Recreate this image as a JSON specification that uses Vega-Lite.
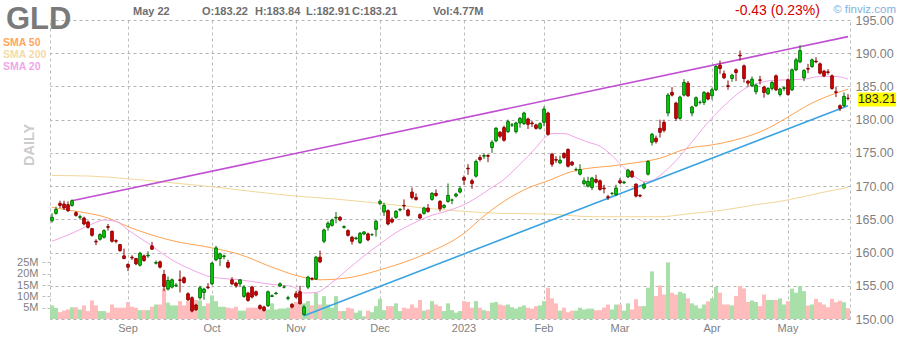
{
"$schema": "https://vega.github.io/schema/vega-lite/v6.json",
"width": 800, "height": 299,
"autosize": {"type": "none"},
"padding": {"left": 50, "top": 20, "right": 50, "bottom": 21},
"background": "#ffffff",
"config": {"view": {"stroke": null}, "font": "Liberation Sans",
 "axis": {"labelFont": "Liberation Sans", "titleFont": "Liberation Sans"},
 "text": {"font": "Liberation Sans"}},
"datasets": {
"ohlc": [
{"d":"2022-08-05","o":164.8,"h":165.9,"l":164.5,"c":165.3,"v":6.0},
{"d":"2022-08-08","o":165.9,"h":166.9,"l":165.7,"c":166.5,"v":4.9},
{"d":"2022-08-09","o":167.4,"h":167.8,"l":166.7,"c":167.1,"v":3.0},
{"d":"2022-08-10","o":167.3,"h":167.8,"l":166.4,"c":166.7,"v":3.7},
{"d":"2022-08-11","o":167.2,"h":167.7,"l":166.1,"c":166.3,"v":4.2},
{"d":"2022-08-12","o":167.1,"h":168.0,"l":166.9,"c":167.8,"v":5.2},
{"d":"2022-08-15","o":166.0,"h":166.2,"l":165.4,"c":165.6,"v":5.2},
{"d":"2022-08-16","o":165.3,"h":165.7,"l":165.0,"c":165.4,"v":4.2},
{"d":"2022-08-17","o":165.2,"h":165.4,"l":164.1,"c":164.3,"v":6.0},
{"d":"2022-08-18","o":164.6,"h":164.8,"l":163.6,"c":163.8,"v":3.5},
{"d":"2022-08-19","o":163.6,"h":163.7,"l":162.4,"c":162.6,"v":8.2},
{"d":"2022-08-22","o":161.7,"h":162.0,"l":161.1,"c":161.6,"v":6.0},
{"d":"2022-08-23","o":162.0,"h":162.9,"l":161.8,"c":162.7,"v":3.5},
{"d":"2022-08-24","o":162.3,"h":163.5,"l":162.1,"c":163.3,"v":3.5},
{"d":"2022-08-25","o":163.9,"h":164.3,"l":163.3,"c":163.8,"v":2.8},
{"d":"2022-08-26","o":163.2,"h":163.3,"l":161.5,"c":161.7,"v":6.4},
{"d":"2022-08-29","o":161.8,"h":162.0,"l":161.4,"c":161.7,"v":5.0},
{"d":"2022-08-30","o":161.2,"h":161.3,"l":160.1,"c":160.3,"v":5.0},
{"d":"2022-08-31","o":159.5,"h":160.6,"l":159.0,"c":159.1,"v":5.0},
{"d":"2022-09-01","o":158.2,"h":158.4,"l":157.2,"c":157.8,"v":7.5},
{"d":"2022-09-02","o":159.3,"h":159.6,"l":158.9,"c":159.2,"v":5.4},
{"d":"2022-09-06","o":159.1,"h":159.2,"l":158.1,"c":158.3,"v":5.0},
{"d":"2022-09-07","o":158.1,"h":160.1,"l":157.9,"c":159.9,"v":3.9},
{"d":"2022-09-08","o":159.5,"h":159.7,"l":158.6,"c":158.8,"v":3.9},
{"d":"2022-09-09","o":159.5,"h":160.2,"l":159.2,"c":159.6,"v":3.9},
{"d":"2022-09-12","o":161.0,"h":161.6,"l":160.4,"c":160.5,"v":5.4},
{"d":"2022-09-13","o":158.4,"h":158.8,"l":158.2,"c":158.5,"v":6.4},
{"d":"2022-09-14","o":158.6,"h":158.8,"l":157.6,"c":157.8,"v":6.4},
{"d":"2022-09-15","o":156.7,"h":157.4,"l":154.2,"c":154.9,"v":13.4},
{"d":"2022-09-16","o":154.5,"h":156.4,"l":154.3,"c":155.8,"v":7.2},
{"d":"2022-09-19","o":154.8,"h":156.1,"l":154.6,"c":155.9,"v":6.0},
{"d":"2022-09-20","o":155.0,"h":155.4,"l":154.8,"c":155.1,"v":6.0},
{"d":"2022-09-21","o":155.9,"h":157.3,"l":154.0,"c":155.8,"v":7.9},
{"d":"2022-09-22","o":156.2,"h":156.4,"l":155.3,"c":155.5,"v":6.0},
{"d":"2022-09-23","o":153.8,"h":154.0,"l":152.7,"c":152.9,"v":7.9},
{"d":"2022-09-26","o":153.2,"h":153.4,"l":151.0,"c":151.2,"v":6.9},
{"d":"2022-09-27","o":152.1,"h":152.3,"l":151.2,"c":151.4,"v":8.4},
{"d":"2022-09-28","o":153.2,"h":155.0,"l":152.9,"c":154.7,"v":8.2},
{"d":"2022-09-29","o":154.0,"h":154.7,"l":152.9,"c":154.5,"v":5.7},
{"d":"2022-09-30","o":154.8,"h":155.4,"l":154.5,"c":154.7,"v":6.9},
{"d":"2022-10-03","o":155.3,"h":158.6,"l":155.1,"c":158.4,"v":10.4},
{"d":"2022-10-04","o":158.9,"h":161.0,"l":158.7,"c":160.7,"v":7.9},
{"d":"2022-10-05","o":159.1,"h":160.0,"l":158.0,"c":159.8,"v":5.4},
{"d":"2022-10-06","o":159.4,"h":159.7,"l":159.0,"c":159.5,"v":5.4},
{"d":"2022-10-07","o":158.5,"h":158.9,"l":157.6,"c":157.8,"v":5.0},
{"d":"2022-10-10","o":155.9,"h":156.3,"l":155.1,"c":155.3,"v":4.7},
{"d":"2022-10-11","o":155.4,"h":155.6,"l":154.7,"c":155.0,"v":5.4},
{"d":"2022-10-12","o":155.3,"h":156.0,"l":154.8,"c":155.9,"v":3.7},
{"d":"2022-10-13","o":153.4,"h":155.1,"l":153.2,"c":154.8,"v":3.7},
{"d":"2022-10-14","o":153.9,"h":154.1,"l":152.6,"c":152.8,"v":5.0},
{"d":"2022-10-17","o":154.8,"h":155.0,"l":153.1,"c":153.3,"v":5.0},
{"d":"2022-10-18","o":154.1,"h":154.3,"l":153.4,"c":153.6,"v":5.0},
{"d":"2022-10-19","o":152.0,"h":152.2,"l":151.4,"c":151.6,"v":5.7},
{"d":"2022-10-20","o":151.8,"h":152.0,"l":151.1,"c":151.3,"v":4.2},
{"d":"2022-10-21","o":152.0,"h":154.3,"l":151.8,"c":154.1,"v":4.2},
{"d":"2022-10-24","o":153.4,"h":153.7,"l":153.3,"c":153.5,"v":6.9},
{"d":"2022-10-25","o":153.8,"h":154.1,"l":153.7,"c":153.9,"v":4.2},
{"d":"2022-10-26","o":155.0,"h":155.5,"l":154.8,"c":155.3,"v":4.6},
{"d":"2022-10-27","o":154.8,"h":155.1,"l":154.6,"c":154.8,"v":4.6},
{"d":"2022-10-28","o":153.1,"h":153.5,"l":152.8,"c":153.2,"v":5.0},
{"d":"2022-10-31","o":152.2,"h":152.4,"l":151.6,"c":151.8,"v":6.0},
{"d":"2022-11-01","o":153.8,"h":154.2,"l":153.1,"c":153.3,"v":7.5},
{"d":"2022-11-02","o":154.1,"h":155.0,"l":152.2,"c":152.3,"v":7.2},
{"d":"2022-11-03","o":150.7,"h":152.1,"l":150.5,"c":151.8,"v":6.9},
{"d":"2022-11-04","o":154.8,"h":156.5,"l":154.5,"c":156.3,"v":7.9},
{"d":"2022-11-07","o":156.1,"h":156.3,"l":155.8,"c":156.0,"v":6.0},
{"d":"2022-11-08","o":156.0,"h":159.5,"l":155.9,"c":159.3,"v":11.6},
{"d":"2022-11-09","o":159.3,"h":160.3,"l":158.4,"c":158.6,"v":6.4},
{"d":"2022-11-10","o":161.7,"h":163.6,"l":161.4,"c":163.4,"v":10.1},
{"d":"2022-11-11","o":163.8,"h":164.7,"l":163.3,"c":164.4,"v":6.4},
{"d":"2022-11-14","o":164.1,"h":165.1,"l":163.9,"c":164.9,"v":5.0},
{"d":"2022-11-15","o":165.2,"h":166.1,"l":164.4,"c":165.3,"v":10.1},
{"d":"2022-11-16","o":165.3,"h":165.5,"l":164.7,"c":164.9,"v":3.5},
{"d":"2022-11-17","o":163.8,"h":164.1,"l":163.6,"c":163.9,"v":3.5},
{"d":"2022-11-18","o":163.3,"h":163.5,"l":162.4,"c":162.6,"v":5.0},
{"d":"2022-11-21","o":162.3,"h":162.5,"l":161.2,"c":161.7,"v":4.6},
{"d":"2022-11-22","o":162.1,"h":162.4,"l":161.9,"c":162.2,"v":2.8},
{"d":"2022-11-23","o":161.5,"h":163.1,"l":161.3,"c":162.9,"v":3.7},
{"d":"2022-11-25","o":162.8,"h":163.2,"l":162.6,"c":163.1,"v":1.2},
{"d":"2022-11-28","o":162.8,"h":163.0,"l":161.7,"c":161.9,"v":3.7},
{"d":"2022-11-29","o":162.7,"h":162.9,"l":162.5,"c":162.7,"v":3.0},
{"d":"2022-11-30","o":163.5,"h":164.9,"l":162.4,"c":164.7,"v":5.7},
{"d":"2022-12-01","o":167.4,"h":168.0,"l":167.1,"c":167.7,"v":8.9},
{"d":"2022-12-02","o":166.1,"h":167.5,"l":165.5,"c":167.1,"v":3.9},
{"d":"2022-12-05","o":166.3,"h":166.5,"l":164.1,"c":164.3,"v":5.7},
{"d":"2022-12-06","o":165.0,"h":165.3,"l":164.4,"c":164.6,"v":5.7},
{"d":"2022-12-07","o":165.3,"h":166.4,"l":165.1,"c":166.2,"v":6.9},
{"d":"2022-12-08","o":166.4,"h":166.7,"l":166.2,"c":166.5,"v":3.5},
{"d":"2022-12-09","o":167.1,"h":168.0,"l":166.4,"c":167.0,"v":5.0},
{"d":"2022-12-12","o":166.4,"h":166.6,"l":165.4,"c":165.6,"v":4.6},
{"d":"2022-12-13","o":169.1,"h":169.8,"l":168.0,"c":168.3,"v":6.4},
{"d":"2022-12-14","o":168.3,"h":168.9,"l":167.8,"c":168.0,"v":5.0},
{"d":"2022-12-15","o":165.7,"h":165.9,"l":165.0,"c":165.2,"v":8.4},
{"d":"2022-12-16","o":165.9,"h":166.9,"l":165.7,"c":166.7,"v":3.7},
{"d":"2022-12-19","o":166.7,"h":167.3,"l":166.0,"c":166.2,"v":4.2},
{"d":"2022-12-20","o":168.0,"h":169.1,"l":167.8,"c":168.9,"v":7.9},
{"d":"2022-12-21","o":168.9,"h":169.5,"l":168.4,"c":168.6,"v":6.4},
{"d":"2022-12-22","o":167.7,"h":167.9,"l":166.2,"c":166.6,"v":5.7},
{"d":"2022-12-23","o":166.8,"h":167.3,"l":166.6,"c":167.1,"v":3.5},
{"d":"2022-12-27","o":167.7,"h":170.4,"l":167.5,"c":168.6,"v":6.9},
{"d":"2022-12-28","o":167.9,"h":168.1,"l":167.3,"c":167.9,"v":3.9},
{"d":"2022-12-29","o":168.5,"h":169.0,"l":168.3,"c":168.8,"v":2.8},
{"d":"2022-12-30","o":169.1,"h":170.0,"l":168.9,"c":169.6,"v":3.5},
{"d":"2023-01-03","o":171.3,"h":171.6,"l":170.2,"c":170.9,"v":7.9},
{"d":"2023-01-04","o":172.7,"h":173.3,"l":171.7,"c":172.6,"v":7.5},
{"d":"2023-01-05","o":170.8,"h":171.1,"l":169.6,"c":170.4,"v":5.0},
{"d":"2023-01-06","o":171.5,"h":174.0,"l":171.3,"c":173.7,"v":7.9},
{"d":"2023-01-09","o":174.3,"h":174.7,"l":173.7,"c":174.0,"v":5.0},
{"d":"2023-01-10","o":174.5,"h":174.9,"l":174.1,"c":174.6,"v":3.9},
{"d":"2023-01-11","o":174.6,"h":174.8,"l":173.6,"c":174.5,"v":3.5},
{"d":"2023-01-12","o":175.8,"h":176.9,"l":175.0,"c":176.6,"v":7.2},
{"d":"2023-01-13","o":176.8,"h":178.9,"l":176.6,"c":178.7,"v":7.5},
{"d":"2023-01-17","o":178.1,"h":178.3,"l":177.2,"c":177.5,"v":6.4},
{"d":"2023-01-18","o":178.8,"h":179.1,"l":176.7,"c":176.9,"v":6.0},
{"d":"2023-01-19","o":178.2,"h":180.0,"l":178.0,"c":179.7,"v":6.4},
{"d":"2023-01-20","o":179.2,"h":179.5,"l":178.9,"c":179.2,"v":5.2},
{"d":"2023-01-23","o":178.2,"h":179.7,"l":177.9,"c":179.5,"v":4.6},
{"d":"2023-01-24","o":179.5,"h":180.4,"l":178.8,"c":180.2,"v":5.4},
{"d":"2023-01-25","o":179.4,"h":181.2,"l":179.2,"c":181.0,"v":6.0},
{"d":"2023-01-26","o":180.1,"h":180.3,"l":178.6,"c":179.3,"v":5.0},
{"d":"2023-01-27","o":179.5,"h":179.8,"l":178.9,"c":179.4,"v":4.6},
{"d":"2023-01-30","o":179.2,"h":179.4,"l":178.5,"c":178.7,"v":5.7},
{"d":"2023-01-31","o":178.7,"h":179.6,"l":178.5,"c":179.4,"v":6.0},
{"d":"2023-02-01","o":179.6,"h":182.0,"l":179.0,"c":181.6,"v":7.9},
{"d":"2023-02-02","o":181.0,"h":181.2,"l":177.6,"c":177.8,"v":13.8},
{"d":"2023-02-03","o":174.8,"h":175.0,"l":172.9,"c":173.3,"v":9.1},
{"d":"2023-02-06","o":174.0,"h":174.5,"l":173.5,"c":173.9,"v":6.9},
{"d":"2023-02-07","o":173.5,"h":174.6,"l":173.3,"c":173.9,"v":3.7},
{"d":"2023-02-08","o":174.9,"h":175.1,"l":174.1,"c":174.3,"v":5.0},
{"d":"2023-02-09","o":175.5,"h":175.7,"l":172.8,"c":173.0,"v":3.0},
{"d":"2023-02-10","o":173.6,"h":173.8,"l":173.0,"c":173.2,"v":3.7},
{"d":"2023-02-13","o":172.5,"h":172.8,"l":172.2,"c":172.5,"v":3.7},
{"d":"2023-02-14","o":171.8,"h":173.3,"l":171.6,"c":172.5,"v":5.0},
{"d":"2023-02-15","o":170.4,"h":171.3,"l":170.1,"c":170.8,"v":4.2},
{"d":"2023-02-16","o":170.0,"h":171.4,"l":169.8,"c":170.7,"v":4.6},
{"d":"2023-02-17","o":169.8,"h":171.4,"l":169.4,"c":171.2,"v":4.6},
{"d":"2023-02-21","o":171.0,"h":171.7,"l":170.4,"c":170.6,"v":3.9},
{"d":"2023-02-22","o":170.8,"h":171.0,"l":169.3,"c":169.5,"v":3.9},
{"d":"2023-02-23","o":169.7,"h":170.2,"l":168.9,"c":169.6,"v":5.0},
{"d":"2023-02-24","o":168.4,"h":168.7,"l":167.9,"c":168.3,"v":6.4},
{"d":"2023-02-27","o":168.9,"h":169.1,"l":168.6,"c":168.9,"v":4.2},
{"d":"2023-02-28","o":168.7,"h":170.2,"l":168.5,"c":169.7,"v":6.4},
{"d":"2023-03-01","o":170.8,"h":171.2,"l":170.3,"c":170.5,"v":6.4},
{"d":"2023-03-02","o":170.5,"h":170.8,"l":170.3,"c":170.6,"v":3.7},
{"d":"2023-03-03","o":171.4,"h":172.6,"l":171.2,"c":172.4,"v":6.9},
{"d":"2023-03-06","o":172.2,"h":172.4,"l":171.2,"c":171.4,"v":4.2},
{"d":"2023-03-07","o":170.3,"h":170.4,"l":168.3,"c":168.5,"v":8.7},
{"d":"2023-03-08","o":168.6,"h":168.8,"l":168.3,"c":168.5,"v":5.7},
{"d":"2023-03-09","o":169.7,"h":170.6,"l":169.5,"c":170.2,"v":5.7},
{"d":"2023-03-10","o":171.8,"h":173.9,"l":171.6,"c":173.7,"v":13.8},
{"d":"2023-03-13","o":176.6,"h":178.0,"l":176.1,"c":177.8,"v":21.0},
{"d":"2023-03-14","o":177.2,"h":177.6,"l":176.4,"c":176.7,"v":10.1},
{"d":"2023-03-15","o":178.7,"h":180.0,"l":177.3,"c":178.1,"v":14.8},
{"d":"2023-03-16","o":179.6,"h":180.0,"l":178.1,"c":178.4,"v":10.8},
{"d":"2023-03-17","o":181.0,"h":184.0,"l":180.5,"c":183.7,"v":25.0},
{"d":"2023-03-20","o":184.1,"h":184.9,"l":183.5,"c":183.7,"v":11.6},
{"d":"2023-03-21","o":182.5,"h":182.7,"l":179.8,"c":180.2,"v":10.8},
{"d":"2023-03-22","o":180.2,"h":183.6,"l":180.0,"c":183.4,"v":12.0},
{"d":"2023-03-23","o":183.7,"h":186.1,"l":183.5,"c":185.6,"v":11.3},
{"d":"2023-03-24","o":185.5,"h":185.8,"l":183.4,"c":183.6,"v":9.1},
{"d":"2023-03-27","o":181.0,"h":182.1,"l":180.5,"c":181.9,"v":6.9},
{"d":"2023-03-28","o":182.1,"h":183.5,"l":181.9,"c":183.3,"v":6.0},
{"d":"2023-03-29","o":182.6,"h":182.9,"l":182.3,"c":182.6,"v":4.7},
{"d":"2023-03-30","o":182.6,"h":184.3,"l":182.2,"c":184.1,"v":6.4},
{"d":"2023-03-31","o":184.0,"h":184.2,"l":182.9,"c":183.1,"v":7.8},
{"d":"2023-04-03","o":183.6,"h":184.8,"l":183.0,"c":184.5,"v":9.1},
{"d":"2023-04-04","o":184.5,"h":188.2,"l":184.3,"c":188.0,"v":14.1},
{"d":"2023-04-05","o":188.2,"h":188.9,"l":186.9,"c":187.7,"v":11.6},
{"d":"2023-04-06","o":186.9,"h":187.4,"l":186.1,"c":186.3,"v":6.4},
{"d":"2023-04-10","o":185.1,"h":185.9,"l":184.5,"c":185.0,"v":6.4},
{"d":"2023-04-11","o":186.2,"h":186.9,"l":185.7,"c":186.7,"v":6.0},
{"d":"2023-04-12","o":187.5,"h":187.7,"l":185.8,"c":187.1,"v":10.1},
{"d":"2023-04-13","o":189.7,"h":190.4,"l":188.9,"c":189.6,"v":14.5},
{"d":"2023-04-14","o":188.1,"h":188.3,"l":185.6,"c":186.2,"v":13.5},
{"d":"2023-04-17","o":185.8,"h":186.0,"l":185.0,"c":185.5,"v":7.5},
{"d":"2023-04-18","o":185.1,"h":186.5,"l":184.9,"c":186.1,"v":8.2},
{"d":"2023-04-19","o":184.2,"h":185.4,"l":183.8,"c":185.2,"v":7.5},
{"d":"2023-04-20","o":186.0,"h":186.6,"l":185.3,"c":185.9,"v":5.7},
{"d":"2023-04-21","o":184.9,"h":185.1,"l":183.3,"c":184.1,"v":10.8},
{"d":"2023-04-24","o":183.9,"h":184.9,"l":183.7,"c":184.7,"v":8.4},
{"d":"2023-04-25","o":184.7,"h":185.8,"l":184.4,"c":185.6,"v":8.4},
{"d":"2023-04-26","o":186.6,"h":186.8,"l":184.3,"c":184.5,"v":8.4},
{"d":"2023-04-27","o":183.8,"h":184.8,"l":183.5,"c":184.6,"v":9.1},
{"d":"2023-04-28","o":184.7,"h":185.0,"l":184.3,"c":184.8,"v":6.4},
{"d":"2023-05-01","o":186.0,"h":186.2,"l":183.6,"c":183.8,"v":7.9},
{"d":"2023-05-02","o":184.5,"h":187.7,"l":184.3,"c":187.5,"v":13.4},
{"d":"2023-05-03","o":187.5,"h":189.3,"l":187.3,"c":189.0,"v":11.6},
{"d":"2023-05-04","o":188.7,"h":191.2,"l":188.5,"c":190.4,"v":14.5},
{"d":"2023-05-05","o":186.3,"h":187.6,"l":185.8,"c":187.4,"v":12.3},
{"d":"2023-05-08","o":187.7,"h":188.4,"l":187.0,"c":187.6,"v":5.9},
{"d":"2023-05-09","o":188.0,"h":189.2,"l":187.8,"c":189.0,"v":6.4},
{"d":"2023-05-10","o":188.8,"h":189.4,"l":188.5,"c":188.7,"v":8.9},
{"d":"2023-05-11","o":188.4,"h":188.6,"l":186.8,"c":187.0,"v":7.4},
{"d":"2023-05-12","o":187.3,"h":187.5,"l":186.4,"c":186.6,"v":6.4},
{"d":"2023-05-15","o":187.2,"h":187.6,"l":186.8,"c":187.1,"v":5.2},
{"d":"2023-05-16","o":186.6,"h":186.8,"l":184.5,"c":184.7,"v":8.9},
{"d":"2023-05-17","o":184.2,"h":184.9,"l":183.4,"c":184.1,"v":7.4},
{"d":"2023-05-18","o":182.1,"h":182.3,"l":181.3,"c":181.7,"v":8.1},
{"d":"2023-05-19","o":182.1,"h":184.1,"l":181.9,"c":183.5,"v":7.4},
{"d":"2023-05-22","o":183.22,"h":183.84,"l":182.91,"c":183.21,"v":4.77}
],
"sma": [
{"d":"2022-08-05","s":"200","p":171.6},{"d":"2022-08-19","s":"200","p":171.5},{"d":"2022-09-01","s":"200","p":171.1},{"d":"2022-09-19","s":"200","p":170.5},{"d":"2022-10-03","s":"200","p":169.9},{"d":"2022-10-17","s":"200","p":169.2},{"d":"2022-11-01","s":"200","p":168.5},{"d":"2022-11-14","s":"200","p":168.1},{"d":"2022-12-01","s":"200","p":167.4},{"d":"2022-12-16","s":"200","p":166.7},{"d":"2023-01-03","s":"200","p":166.2},{"d":"2023-01-17","s":"200","p":165.9},{"d":"2023-02-02","s":"200","p":165.8},{"d":"2023-02-17","s":"200","p":165.4},{"d":"2023-03-06","s":"200","p":165.4},{"d":"2023-03-15","s":"200","p":165.4},{"d":"2023-03-27","s":"200","p":165.9},{"d":"2023-04-06","s":"200","p":166.4},{"d":"2023-04-19","s":"200","p":167.2},{"d":"2023-04-26","s":"200","p":167.6},{"d":"2023-05-04","s":"200","p":168.3},{"d":"2023-05-12","s":"200","p":169.1},{"d":"2023-05-22","s":"200","p":169.8},
{"d":"2022-08-05","s":"50","p":166.8},{"d":"2022-08-12","s":"50","p":166.3},{"d":"2022-08-25","s":"50","p":165.2},{"d":"2022-09-01","s":"50","p":163.9},{"d":"2022-09-19","s":"50","p":161.8},{"d":"2022-10-03","s":"50","p":160.7},{"d":"2022-10-12","s":"50","p":159.7},{"d":"2022-10-24","s":"50","p":157.8},{"d":"2022-11-02","s":"50","p":156.4},{"d":"2022-11-09","s":"50","p":155.9},{"d":"2022-11-21","s":"50","p":156.3},{"d":"2022-12-01","s":"50","p":157.4},{"d":"2022-12-16","s":"50","p":159.7},{"d":"2023-01-03","s":"50","p":162.9},{"d":"2023-01-10","s":"50","p":165.5},{"d":"2023-01-13","s":"50","p":166.9},{"d":"2023-01-23","s":"50","p":168.8},{"d":"2023-01-26","s":"50","p":169.7},{"d":"2023-02-02","s":"50","p":170.8},{"d":"2023-02-10","s":"50","p":172.2},{"d":"2023-03-01","s":"50","p":173.2},{"d":"2023-03-15","s":"50","p":174.2},{"d":"2023-03-24","s":"50","p":175.7},{"d":"2023-04-03","s":"50","p":176.2},{"d":"2023-04-18","s":"50","p":177.7},{"d":"2023-04-24","s":"50","p":178.7},{"d":"2023-05-01","s":"50","p":180.4},{"d":"2023-05-09","s":"50","p":182.5},{"d":"2023-05-18","s":"50","p":184.2},{"d":"2023-05-22","s":"50","p":184.6},
{"d":"2022-08-05","s":"20","p":161.7},{"d":"2022-08-12","s":"20","p":162.9},{"d":"2022-08-19","s":"20","p":164.3},{"d":"2022-08-24","s":"20","p":164.9},{"d":"2022-08-29","s":"20","p":164.7},{"d":"2022-09-01","s":"20","p":163.4},{"d":"2022-09-09","s":"20","p":161.4},{"d":"2022-09-19","s":"20","p":158.9},{"d":"2022-09-26","s":"20","p":157.4},{"d":"2022-10-03","s":"20","p":156.3},{"d":"2022-10-12","s":"20","p":155.9},{"d":"2022-10-24","s":"20","p":155.2},{"d":"2022-10-31","s":"20","p":154.9},{"d":"2022-11-03","s":"20","p":153.9},{"d":"2022-11-08","s":"20","p":154.0},{"d":"2022-11-14","s":"20","p":155.5},{"d":"2022-11-18","s":"20","p":157.5},{"d":"2022-11-25","s":"20","p":159.5},{"d":"2022-12-01","s":"20","p":161.3},{"d":"2022-12-07","s":"20","p":163.0},{"d":"2022-12-13","s":"20","p":164.3},{"d":"2022-12-19","s":"20","p":165.4},{"d":"2022-12-27","s":"20","p":166.3},{"d":"2023-01-03","s":"20","p":167.2},{"d":"2023-01-06","s":"20","p":168.2},{"d":"2023-01-12","s":"20","p":169.8},{"d":"2023-01-18","s":"20","p":171.0},{"d":"2023-01-23","s":"20","p":172.7},{"d":"2023-01-26","s":"20","p":174.5},{"d":"2023-01-30","s":"20","p":175.8},{"d":"2023-02-01","s":"20","p":177.2},{"d":"2023-02-03","s":"20","p":177.9},{"d":"2023-02-08","s":"20","p":177.9},{"d":"2023-02-13","s":"20","p":177.3},{"d":"2023-02-16","s":"20","p":176.6},{"d":"2023-02-22","s":"20","p":176.0},{"d":"2023-02-27","s":"20","p":174.6},{"d":"2023-03-02","s":"20","p":172.8},{"d":"2023-03-07","s":"20","p":171.3},{"d":"2023-03-09","s":"20","p":170.7},{"d":"2023-03-13","s":"20","p":170.8},{"d":"2023-03-15","s":"20","p":171.6},{"d":"2023-03-20","s":"20","p":173.2},{"d":"2023-03-23","s":"20","p":175.2},{"d":"2023-03-28","s":"20","p":177.4},{"d":"2023-03-31","s":"20","p":179.6},{"d":"2023-04-05","s":"20","p":181.5},{"d":"2023-04-11","s":"20","p":183.2},{"d":"2023-04-14","s":"20","p":184.6},{"d":"2023-04-19","s":"20","p":185.4},{"d":"2023-04-25","s":"20","p":185.9},{"d":"2023-05-01","s":"20","p":186.0},{"d":"2023-05-05","s":"20","p":186.1},{"d":"2023-05-11","s":"20","p":186.5},{"d":"2023-05-17","s":"20","p":186.5},{"d":"2023-05-22","s":"20","p":186.1}
],
"trend": [
{"d":"2022-08-12","p":167.8,"n":"top"},{"d":"2023-05-22","p":192.5,"n":"top"},
{"d":"2022-11-03","p":150.5,"n":"bottom"},{"d":"2023-05-22","p":182.1,"n":"bottom"}
]
},
"data": {"name": "ohlc"},
"layer": [
{
"mark": {"type": "bar", "width": {"band": 1}},
"encoding": {
"x": {"field": "d", "type": "ordinal", "title": null, "scale": {"type": "band", "paddingInner": 0, "paddingOuter": 0},
 "axis": {"values": ["2022-09-01","2022-10-03","2022-11-01","2022-12-01","2023-01-03","2023-02-01","2023-03-01","2023-04-03","2023-05-01"],
  "labelExpr": "utcmonth(toDate(datum.value)) == 0 ? utcFormat(toDate(datum.value), '%Y') : utcFormat(toDate(datum.value), '%b')",
  "grid": true, "gridDash": [3,3], "gridColor": "#bdbdbd", "ticks": false, "domain": false, "labelAngle": 0, "labelPadding": 3, "labelColor": "#7f7f7f", "labelFontSize": 11, "bandPosition": 0.5}},
"y": {"field": "v", "type": "quantitative", "title": null, "scale": {"domain": [0, 132], "nice": false, "zero": true},
 "axis": {"orient": "left", "values": [5,10,15,20,25], "labelExpr": "datum.value + 'M'", "grid": false, "ticks": true, "tickSize": 10, "tickColor": "#bdbdbd", "tickDash": [3,2], "domain": true, "domainColor": "#bdbdbd", "domainDash": [3,3], "labelColor": "#7f7f7f", "labelFontSize": 11, "labelPadding": 2}},
"fill": {"condition": {"test": "datum.c >= datum.o", "value": "#a9dfa9"}, "value": "#ffbcbc"}
}
},
{
"data": {"name": "sma"},
"mark": {"type": "line", "strokeWidth": 1, "interpolate": "monotone"},
"encoding": {
"x": {"field": "d", "type": "ordinal", "title": null},
"y": {"field": "p", "type": "quantitative", "title": null, "scale": {"domain": [150, 195], "nice": false, "zero": false},
 "axis": {"orient": "right", "values": [150,155,160,165,170,175,180,185,190,195], "format": ".2f", "grid": true, "gridDash": [3,3], "gridColor": "#b5b5b5", "ticks": false, "domain": true, "domainColor": "#bdbdbd", "domainDash": [3,3], "labelColor": "#7f7f7f", "labelFontSize": 12.5, "labelPadding": 5, "labelOverlap": false}},
"detail": {"field": "s"},
"stroke": {"condition": [{"test": "datum.s == '50'", "value": "#ffa352"}, {"test": "datum.s == '200'", "value": "#f2d799"}], "value": "#f2a6e8"}
}
},
{
"data": {"name": "trend"},
"mark": {"type": "line", "strokeWidth": 1.6},
"encoding": {
"x": {"field": "d", "type": "ordinal", "title": null},
"y": {"field": "p", "type": "quantitative", "scale": {"domain": [150, 195], "nice": false, "zero": false}, "axis": null},
"detail": {"field": "n"},
"stroke": {"condition": {"test": "datum.n == 'top'", "value": "#c04fd2"}, "value": "#3ba3e3"}
}
},
{
"mark": {"type": "rule", "strokeWidth": 1},
"encoding": {
"x": {"field": "d", "type": "ordinal", "title": null},
"y": {"field": "l", "type": "quantitative", "scale": {"domain": [150, 195], "nice": false, "zero": false}, "axis": null},
"y2": {"field": "h"},
"stroke": {"condition": {"test": "datum.c >= datum.o", "value": "#006a00"}, "value": "#8a0000"}
}
},
{
"mark": {"type": "bar", "width": 2.6, "strokeWidth": 1},
"encoding": {
"x": {"field": "d", "type": "ordinal", "title": null},
"y": {"field": "o", "type": "quantitative", "scale": {"domain": [150, 195], "nice": false, "zero": false}, "axis": null},
"y2": {"field": "c"},
"fill": {"condition": {"test": "datum.c >= datum.o", "value": "#00dd00"}, "value": "#e00000"},
"stroke": {"condition": {"test": "datum.c >= datum.o", "value": "#006a00"}, "value": "#8a0000"}
}
},
{"data": {"values": [{}]}, "mark": {"type": "text", "text": "GLD", "fontSize": 31, "fontWeight": "bold", "color": "#7a7a7a", "align": "left", "baseline": "alphabetic", "dx": -46},
 "encoding": {"x": {"datum": "2022-08-05", "type": "ordinal", "title": null}, "y": {"datum": 193.6, "type": "quantitative", "scale": {"domain": [150, 195], "nice": false, "zero": false}, "axis": null}}},
{"data": {"values": [{}]}, "mark": {"type": "text", "text": "May 22", "fontSize": 11, "fontWeight": "bold", "color": "#6e6e6e", "align": "left", "baseline": "alphabetic", "dx": 1},
 "encoding": {"x": {"datum": "2022-09-02", "type": "ordinal", "title": null}, "y": {"datum": 195.75, "type": "quantitative", "scale": {"domain": [150, 195], "nice": false, "zero": false}, "axis": null}}},
{"data": {"values": [{}]}, "mark": {"type": "text", "text": "O:183.22", "fontSize": 11, "fontWeight": "bold", "color": "#6e6e6e", "align": "left", "baseline": "alphabetic", "dx": 2},
 "encoding": {"x": {"datum": "2022-09-28", "type": "ordinal", "title": null}, "y": {"datum": 195.75, "type": "quantitative", "scale": {"domain": [150, 195], "nice": false, "zero": false}, "axis": null}}},
{"data": {"values": [{}]}, "mark": {"type": "text", "text": "H:183.84", "fontSize": 11, "fontWeight": "bold", "color": "#6e6e6e", "align": "left", "baseline": "alphabetic", "dx": -1},
 "encoding": {"x": {"datum": "2022-10-18", "type": "ordinal", "title": null}, "y": {"datum": 195.75, "type": "quantitative", "scale": {"domain": [150, 195], "nice": false, "zero": false}, "axis": null}}},
{"data": {"values": [{}]}, "mark": {"type": "text", "text": "L:182.91", "fontSize": 11, "fontWeight": "bold", "color": "#6e6e6e", "align": "left", "baseline": "alphabetic", "dx": 2},
 "encoding": {"x": {"datum": "2022-11-03", "type": "ordinal", "title": null}, "y": {"datum": 195.75, "type": "quantitative", "scale": {"domain": [150, 195], "nice": false, "zero": false}, "axis": null}}},
{"data": {"values": [{}]}, "mark": {"type": "text", "text": "C:183.21", "fontSize": 11, "fontWeight": "bold", "color": "#6e6e6e", "align": "left", "baseline": "alphabetic", "dx": 0},
 "encoding": {"x": {"datum": "2022-11-21", "type": "ordinal", "title": null}, "y": {"datum": 195.75, "type": "quantitative", "scale": {"domain": [150, 195], "nice": false, "zero": false}, "axis": null}}},
{"data": {"values": [{}]}, "mark": {"type": "text", "text": "Vol:4.77M", "fontSize": 11, "fontWeight": "bold", "color": "#6e6e6e", "align": "left", "baseline": "alphabetic", "dx": 1},
 "encoding": {"x": {"datum": "2022-12-20", "type": "ordinal", "title": null}, "y": {"datum": 195.75, "type": "quantitative", "scale": {"domain": [150, 195], "nice": false, "zero": false}, "axis": null}}},
{"data": {"values": [{}]}, "mark": {"type": "text", "text": "-0.43 (0.23%)", "fontSize": 14, "color": "#d40000", "align": "left", "baseline": "alphabetic", "dx": -1},
 "encoding": {"x": {"datum": "2023-04-12", "type": "ordinal", "title": null}, "y": {"datum": 195.8, "type": "quantitative", "scale": {"domain": [150, 195], "nice": false, "zero": false}, "axis": null}}},
{"data": {"values": [{}]}, "mark": {"type": "text", "text": "© finviz.com", "fontSize": 11.5, "color": "#7fb0e0", "align": "right", "baseline": "alphabetic", "dx": 48},
 "encoding": {"x": {"datum": "2023-05-22", "type": "ordinal", "title": null}, "y": {"datum": 196.1, "type": "quantitative", "scale": {"domain": [150, 195], "nice": false, "zero": false}, "axis": null}}},
{"data": {"values": [{}]}, "mark": {"type": "text", "text": "SMA 50", "fontSize": 10.5, "fontWeight": "bold", "color": "#ffa55c", "align": "left", "baseline": "alphabetic", "dx": -49},
 "encoding": {"x": {"datum": "2022-08-05", "type": "ordinal", "title": null}, "y": {"datum": 191.1, "type": "quantitative", "scale": {"domain": [150, 195], "nice": false, "zero": false}, "axis": null}}},
{"data": {"values": [{}]}, "mark": {"type": "text", "text": "SMA 200", "fontSize": 10.5, "fontWeight": "bold", "color": "#f5dba6", "align": "left", "baseline": "alphabetic", "dx": -49},
 "encoding": {"x": {"datum": "2022-08-05", "type": "ordinal", "title": null}, "y": {"datum": 189.3, "type": "quantitative", "scale": {"domain": [150, 195], "nice": false, "zero": false}, "axis": null}}},
{"data": {"values": [{}]}, "mark": {"type": "text", "text": "SMA 20", "fontSize": 10.5, "fontWeight": "bold", "color": "#f0a8e8", "align": "left", "baseline": "alphabetic", "dx": -49},
 "encoding": {"x": {"datum": "2022-08-05", "type": "ordinal", "title": null}, "y": {"datum": 187.5, "type": "quantitative", "scale": {"domain": [150, 195], "nice": false, "zero": false}, "axis": null}}},
{"data": {"values": [{}]}, "mark": {"type": "text", "text": "DAILY", "fontSize": 14.5, "fontWeight": "bold", "color": "#cccccc", "align": "center", "baseline": "middle", "angle": 270, "radius": 22, "theta": 4.712},
 "encoding": {"x": {"datum": "2022-08-05", "type": "ordinal", "title": null}, "y": {"datum": 176.2, "type": "quantitative", "scale": {"domain": [150, 195], "nice": false, "zero": false}, "axis": null}}},
{"data": {"values": [{}]}, "mark": {"type": "point", "shape": "M0.2,-0.14H0.96V0.14H0.2Z", "size": 10000, "filled": true, "color": "#ffff00", "opacity": 1, "strokeWidth": 0},
 "encoding": {"x": {"datum": "2023-05-22", "type": "ordinal", "title": null}, "y": {"datum": 183.05, "type": "quantitative", "scale": {"domain": [150, 195], "nice": false, "zero": false}, "axis": null}}},
{"data": {"values": [{}]}, "mark": {"type": "text", "text": "183.21", "fontSize": 12.5, "color": "#222222", "align": "center", "baseline": "middle", "dx": 29},
 "encoding": {"x": {"datum": "2023-05-22", "type": "ordinal", "title": null}, "y": {"datum": 183.05, "type": "quantitative", "scale": {"domain": [150, 195], "nice": false, "zero": false}, "axis": null}}}
],
"resolve": {"scale": {"y": "independent"}}
}
